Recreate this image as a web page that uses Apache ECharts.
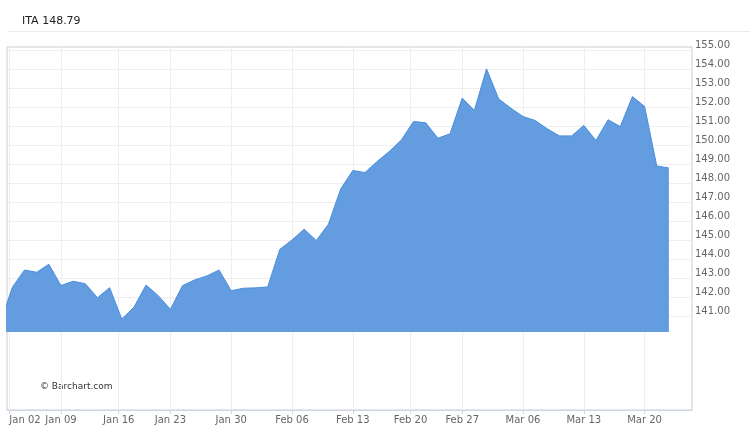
<!DOCTYPE html>
<html><head><meta charset="utf-8">
<script src="https://cdn.jsdelivr.net/npm/echarts@6/dist/echarts.min.js"></script>
<style>html,body{margin:0;padding:0;background:#fff}#c{width:750px;height:433px}</style>
</head><body><div id="c"></div>
<script>
const symbol = 'ITA';
const lastPrice = '148.79';
const credit = '\u00A9 Barchart.com';
// trading days (index 0 = Jan 03); the first entry (Dec 30) sits just left of the view
const firstIndex = -1;
const dates = ['Dec 30','Jan 03','Jan 04','Jan 05','Jan 06','Jan 09','Jan 10','Jan 11','Jan 12','Jan 13',
  'Jan 17','Jan 18','Jan 19','Jan 20','Jan 23','Jan 24','Jan 25','Jan 26','Jan 27',
  'Jan 30','Jan 31','Feb 01','Feb 02','Feb 03','Feb 06','Feb 07','Feb 08','Feb 09','Feb 10',
  'Feb 13','Feb 14','Feb 15','Feb 16','Feb 17','Feb 21','Feb 22','Feb 23','Feb 24',
  'Feb 27','Feb 28','Mar 01','Mar 02','Mar 03','Mar 06','Mar 07','Mar 08','Mar 09','Mar 10',
  'Mar 13','Mar 14','Mar 15','Mar 16','Mar 17','Mar 20','Mar 21','Mar 22'];
const prices = [140.60,142.51,143.42,143.30,143.72,142.60,142.83,142.70,141.96,142.49,
  140.84,141.46,142.63,142.07,141.35,142.60,142.90,143.11,143.42,
  142.33,142.46,142.48,142.53,144.51,145.00,145.57,144.97,145.83,147.68,
  148.66,148.55,149.13,149.66,150.27,151.24,151.17,150.36,150.59,
  152.47,151.82,154.01,152.43,151.94,151.50,151.29,150.85,150.48,150.48,
  151.03,150.24,151.33,150.97,152.55,152.03,148.90,148.79];
// weekly tick labels (holidays sit between trading days)
const xTickPositions = [-0.25, 4, 8.75, 13, 18, 23, 28, 32.75, 37, 42, 47, 52];
const xTickLabels = ['Jan 02','Jan 09','Jan 16','Jan 23','Jan 30','Feb 06','Feb 13','Feb 20','Feb 27','Mar 06','Mar 13','Mar 20'];
const yTicks = [141,142,143,144,145,146,147,148,149,150,151,152,153,154,155];
const xRange = [-0.44, 55.9];
const yRange = [136.05, 155.16];
const fillBase = 140.16;

const chart = echarts.init(document.getElementById('c'), null, {renderer: 'canvas'});
const font = 'DejaVu Sans';
chart.setOption({
  animation: false,
  backgroundColor: '#fff',
  textStyle: {fontFamily: font},
  grid: {left: 7, right: 58, top: 47, bottom: 23, containLabel: false, outerBoundsMode: 'none',
    show: true, borderColor: '#cccccc', borderWidth: 1, backgroundColor: 'transparent'},
  graphic: [
    {type: 'line', shape: {x1: 7, y1: 31.5, x2: 750, y2: 31.5}, style: {stroke: '#ececec', lineWidth: 1}, silent: true},
    {type: 'text', left: 22, top: 16, style: {text: symbol + ' ' + lastPrice, fill: '#222', font: '11px "DejaVu Sans"'}},
    {type: 'text', left: 40, top: 382, style: {text: credit, fill: '#333', font: '9px "DejaVu Sans"'}}
  ],
  xAxis: {
    type: 'value', min: xRange[0], max: xRange[1],
    axisLine: {show: true, lineStyle: {color: '#ccd6eb'}},
    axisTick: {show: true, length: 4, lineStyle: {color: '#ccd6eb'}, customValues: xTickPositions},
    axisLabel: {customValues: xTickPositions, color: '#666', fontSize: 10, fontFamily: font, margin: 5,
      alignMinLabel: 'left',
      formatter: v => { const k = xTickPositions.findIndex(p => Math.abs(p - v) < 1e-6); return k >= 0 ? xTickLabels[k] : ''; }},
    splitLine: {show: true, lineStyle: {color: '#eeeeee', width: 1}}
  },
  yAxis: {
    type: 'value', position: 'right', min: yRange[0], max: yRange[1], scale: true,
    axisLine: {show: false},
    axisTick: {show: false, customValues: yTicks},
    axisLabel: {customValues: yTicks, color: '#666', fontSize: 10, fontFamily: font, margin: 3,
      verticalAlign: 'bottom', formatter: v => Number(v).toFixed(2)},
    splitLine: {show: true, lineStyle: {color: '#eeeeee', width: 1}}
  },
  series: [{
    type: 'line',
    data: prices.map((p, i) => [i + firstIndex, p]),
    showSymbol: false,
    clip: true,
    lineStyle: {color: '#4a8ddf', width: 1},
    areaStyle: {color: '#639ddf', opacity: 1, origin: fillBase}
  }]
});
</script></body></html>
